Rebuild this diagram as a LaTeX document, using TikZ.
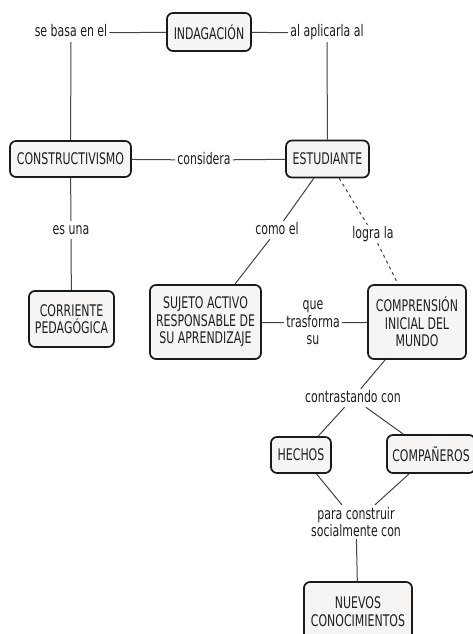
\documentclass[tikz,border=0pt]{standalone}
\usepackage{fontspec}
\setmainfont{DejaVu Sans}[FakeStretch=0.685]
\definecolor{boxfill}{HTML}{F7F5F4}
\definecolor{boxline}{HTML}{1A1A1A}
\definecolor{connline}{HTML}{444444}
\definecolor{txt}{HTML}{1E1E1E}
\begin{document}
\begin{tikzpicture}[x=1pt,y=-1pt,
  concept/.style={draw=boxline, line width=1.7pt, fill=boxfill, rounded corners=6pt,
    align=center, inner sep=2pt, text=txt, font=\fontsize{16}{17.5}\selectfont},
  linklabel/.style={align=center, inner sep=2pt, text=txt, font=\fontsize{16}{17.5}\selectfont},
  onel/.style={linklabel, text height=11pt, text depth=3pt},
  conn/.style={draw=connline, line width=1pt},
  dconn/.style={conn, dash pattern=on 3pt off 3.5pt}]
\useasboundingbox (0,0) rectangle (473,634);
\clip (0,0) rectangle (473,634);
\fill[white] (0,0) rectangle (473,634);

% concepts
\node[concept, minimum width=84pt, minimum height=38pt] (indag) at (209,32) {INDAGACIÓN};
\node[concept, minimum width=121pt, minimum height=36pt] (constr) at (70.5,159) {CONSTRUCTIVISMO};
\node[concept, minimum width=83pt, minimum height=37pt] (est) at (327.5,159) {ESTUDIANTE};
\node[concept, minimum width=85pt, minimum height=56pt] (corr) at (71.5,319) {CORRIENTE\\PEDAGÓGICA};
\node[concept, minimum width=111pt, minimum height=74pt] (sujeto) at (205.5,322) {SUJETO ACTIVO\\RESPONSABLE DE\\SU APRENDIZAJE};
\node[concept, minimum width=98pt, minimum height=74pt] (comp) at (417,322) {COMPRENSIÓN\\INICIAL DEL\\MUNDO};
\node[concept, minimum width=60pt, minimum height=36pt] (hechos) at (301,455) {HECHOS};
\node[concept, minimum width=88pt, minimum height=38pt] (compan) at (431,454) {COMPAÑEROS};
\node[concept, minimum width=108pt, minimum height=59pt] (nuevos) at (358,611.5) {NUEVOS\\CONOCIMIENTOS};

% linking phrases
\node[onel] (sebasa) at (71,33) {se basa en el};
\node[onel] (alaplic) at (327,33) {al aplicarla al};
\node[onel] (considera) at (204,160) {considera};
\node[onel] (esuna) at (71,230) {es una};
\node[onel] (comoel) at (277,230) {como el};
\node[onel] (logra) at (373,234) {logra la};
\node[linklabel] (que) at (313,323) {que\\trasforma\\su};
\node[onel] (contrast) at (353,398) {contrastando con};
\node[linklabel] (para) at (356,522) {para construir\\socialmente con};

% connectors
\draw[conn] (sebasa) -- (indag);
\draw[conn] (indag) -- (alaplic);
\draw[conn] (sebasa) -- (constr);
\draw[conn] (alaplic) -- (est);
\draw[conn] (constr) -- (considera);
\draw[conn] (considera) -- (est);
\draw[conn] (constr) -- (esuna);
\draw[conn] (esuna) -- (corr);
\draw[conn] (est) -- (comoel);
\draw[conn] (comoel) -- (sujeto);
\draw[dconn] (est) -- (logra);
\draw[dconn] (logra) -- (comp);
\draw[conn] (sujeto) -- (que);
\draw[conn] (que) -- (comp);
\draw[conn] (comp) -- (contrast);
\draw[conn] (contrast) -- (hechos);
\draw[conn] (contrast) -- (compan);
\draw[conn] (hechos) -- (para);
\draw[conn] (compan) -- (para);
\draw[conn] (para) -- (nuevos);
\end{tikzpicture}
\end{document}
